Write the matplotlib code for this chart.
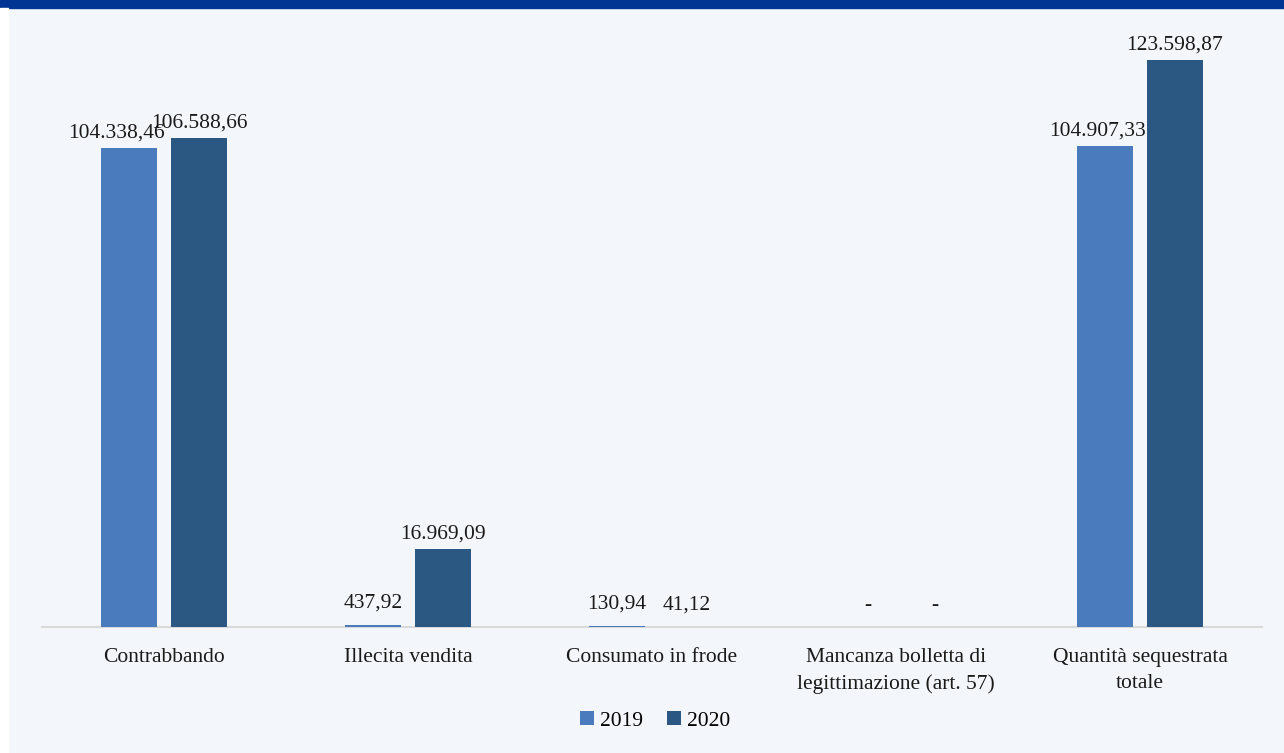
import matplotlib
matplotlib.use("Agg")
import matplotlib.pyplot as plt
import numpy as np
from matplotlib.patches import Rectangle

categories = ["Contrabbando", "Illecita vendita", "Consumato in frode",
              "Mancanza bolletta di\nlegittimazione (art. 57)",
              "Quantità sequestrata\ntotale"]
years = ["2019", "2020"]
values_2019 = [104338.46, 437.92, 130.94, 0.0, 104907.33]
values_2020 = [106588.66, 16969.09, 41.12, 0.0, 123598.87]

colors = ["#4A7BBD", "#2B5783"]
bg = "#F3F6FA"

plt.rcParams['font.family'] = ['Liberation Serif', 'DejaVu Serif']

def fmt(v):
    if v == 0:
        return "-"
    s = f"{v:,.2f}"
    return s.replace(",", "X").replace(".", ",").replace("X", ".")

fig = plt.figure(figsize=(12.84, 7.53), dpi=100)
fig.patch.set_facecolor(bg)
# top band and left strip
fig.add_artist(Rectangle((0, 1 - 8/753), 1, 8/753, transform=fig.transFigure,
                         color="#003594", zorder=0))
fig.add_artist(Rectangle((0, 0), 8/1284, 1 - 8/753, transform=fig.transFigure,
                         color="white", zorder=0))

ax = fig.add_axes([42/1284, 1 - 627/753, 1220/1284, 597/753])
ax.set_facecolor(bg)

x = np.arange(len(categories))
w = 0.226
off = 0.1435
b1 = ax.bar(x - off, values_2019, w, color=colors[0], label=years[0], zorder=3)
b2 = ax.bar(x + off, values_2020, w, color=colors[1], label=years[1], zorder=3)

ax.set_xlim(-0.5, len(categories) - 0.5)
ax.set_ylim(0, 130140)

fs = 15.5
# label x-offsets (points), to mimic placement in the reference
dx_2019 = [-9, 0, 0, 5, -5]
dx_2020 = [0, 0, 0, 3, 0]
for rects, vals, dxs in ((b1, values_2019, dx_2019), (b2, values_2020, dx_2020)):
    for r, v, dx in zip(rects, vals, dxs):
        ax.annotate(fmt(v), (r.get_x() + r.get_width() / 2, r.get_height()),
                    xytext=(dx, 4 if v > 1000 else 9), textcoords="offset points",
                    ha="center", va="bottom", fontsize=fs, color="#1a1a1a")

ax.set_xticks(x)
ax.set_xticklabels(categories, fontsize=fs, color="#1a1a1a", linespacing=1.5)
ax.tick_params(axis="x", length=0, pad=15)
ax.set_yticks([])
for s in ["top", "right", "left"]:
    ax.spines[s].set_visible(False)
ax.spines["bottom"].set_color("#D9D9D9")
ax.spines["bottom"].set_linewidth(1.5)

fig.legend(handles=[b1, b2], labels=years, loc="center",
           bbox_to_anchor=(655/1284, 1 - 721/753), ncol=2, frameon=False,
           fontsize=fs, handlelength=0.65, handleheight=0.65,
           handletextpad=0.3, columnspacing=1.1)

fig.savefig("out.png", dpi=100, facecolor=bg)
